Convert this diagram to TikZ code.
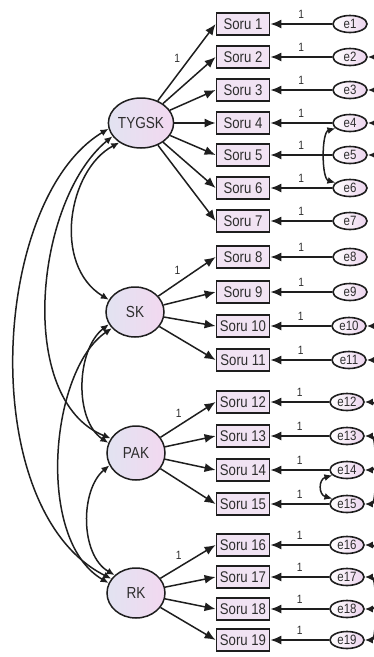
\documentclass[tikz,border=0pt]{standalone}
\usepackage{fontspec}
\newfontfamily\nsans[FakeStretch=0.85]{Liberation Sans}
\usetikzlibrary{arrows.meta,shapes.geometric}
\definecolor{boxfill}{HTML}{F1E3F3}
\definecolor{latL}{HTML}{E2E3F1}
\definecolor{latR}{HTML}{F2D8F0}
\definecolor{errR}{HTML}{ECD4EE}
\definecolor{ink}{HTML}{1E1E1E}
\definecolor{txt}{HTML}{2E2E2E}
\begin{document}
\begin{tikzpicture}[x=1pt,y=-1pt,
  obs/.style={draw=ink, line width=1.8pt, fill=boxfill, minimum width=53pt, minimum height=22pt, inner sep=0pt, text=txt, font=\nsans\fontsize{15.5}{15.5}\selectfont},
  lat/.style={ellipse, draw=ink, line width=1.5pt, left color=latL, right color=latR, minimum width=58pt, minimum height=50pt, inner sep=0pt, text=txt, font=\nsans\fontsize{16}{16}\selectfont},
  err/.style={ellipse, draw=ink, line width=1.6pt, left color=white, right color=errR, minimum width=34pt, minimum height=17pt, inner sep=0pt, text=txt, font=\nsans\fontsize{13.5}{13.5}\selectfont},
  arr/.style={draw=ink, line width=1.5pt, -{Latex[length=11pt,width=9pt]}},
  cov/.style={draw=ink, line width=1.5pt, {Latex[length=8pt,width=7pt]}-{Latex[length=8pt,width=7pt]}},
  one/.style={text=txt, font=\nsans\fontsize{12}{12}\selectfont, inner sep=1pt}]
\useasboundingbox (0,0) rectangle (374,657);

% latent variables
\node[lat] (TY) at (141,123) {TYGSK};
\node[lat] (SK) at (135,312) {SK};
\node[lat, minimum height=54pt] (PAK) at (136,453) {PAK};
\node[lat] (RK) at (136,593) {RK};

% observed items and errors
\foreach \i/\y/\ex in {1/24/350,2/57/350,3/90/350,4/123/350,5/155/350,6/188/350,7/221/350,
  8/257/350,9/292/350,10/326/349,11/360/349,12/402/347,13/436/347,14/470/347,15/504/347,
  16/545/347,17/577/347,18/609/347,19/640/347}{
  \node[obs] (s\i) at (243,\y) {Soru \i};
  \node[err] (e\i) at (\ex,\y) {e\i};
  \draw[arr] (e\i) -- node[one, above=4pt]{1} (s\i);
}

% loadings
\draw[arr] (TY) -- node[one, pos=0.45, above left=2pt]{1} (s1.west);
\foreach \i in {2,...,7}{\draw[arr] (TY) -- (s\i.west);}
\draw[arr] (SK) -- node[one, pos=0.45, above left=2pt]{1} (s8.west);
\foreach \i in {9,10,11}{\draw[arr] (SK) -- (s\i.west);}
\draw[arr] (PAK) -- node[one, pos=0.45, above left=2pt]{1} (s12.west);
\foreach \i in {13,14,15}{\draw[arr] (PAK) -- (s\i.west);}
\draw[arr] (RK) -- node[one, pos=0.45, above left=2pt]{1} (s16.west);
\foreach \i in {17,18,19}{\draw[arr] (RK) -- (s\i.west);}

% covariances between latent variables
\draw[cov] (TY.222) .. controls (68,170) and (52,265) .. (SK.155);
\draw[cov] (TY.205) .. controls (35,200) and (15,400) .. (PAK.150);
\draw[cov] (TY.190) .. controls (-10,200) and (-25,510) .. (RK.150);
\draw[cov] (SK.205) .. controls (76,350) and (74,420) .. (PAK.160);
\draw[cov] (SK.215) .. controls (50,370) and (35,540) .. (RK.160);
\draw[cov] (PAK.205) .. controls (80,490) and (80,555) .. (RK.140);

% covariances between errors
\draw[cov] (e2.east) .. controls +(12,0) and +(12,0) .. (e3.east);
\draw[cov] (e4.east) .. controls +(12,0) and +(12,0) .. (e5.east);
\draw[cov] (e4.200) .. controls +(-14,4) and +(-14,-4) .. (e6.160);
\draw[cov] (e10.east) .. controls +(12,0) and +(12,0) .. (e11.east);
\draw[cov] (e12.east) .. controls +(16,0) and +(16,0) .. (e14.east);
\draw[cov] (e13.east) .. controls +(12,0) and +(12,0) .. (e15.east);
\draw[cov] (e14.200) .. controls +(-14,4) and +(-14,-4) .. (e15.160);
\draw[cov] (e16.east) .. controls +(16,0) and +(16,0) .. (e18.east);
\draw[cov] (e17.east) .. controls +(12,0) and +(12,0) .. (e19.east);
\end{tikzpicture}
\end{document}
